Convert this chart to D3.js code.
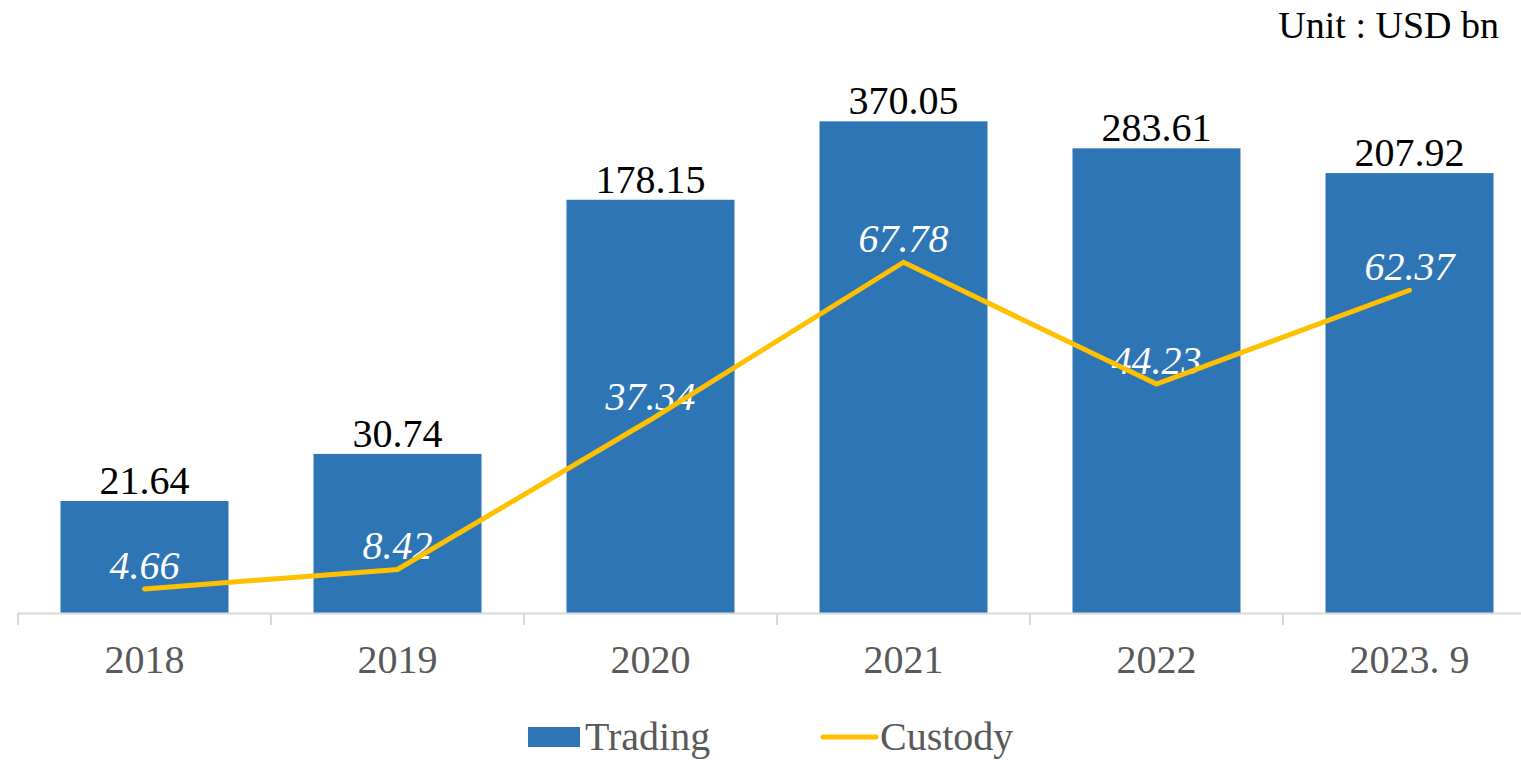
<!DOCTYPE html>
<html>
<head>
<meta charset="utf-8">
<script src="https://cdn.jsdelivr.net/npm/d3@7"></script>
<style>
  html, body { margin: 0; padding: 0; background: #ffffff; }
  svg { display: block; }
</style>
</head>
<body>
<svg id="chart" width="1521" height="760"></svg>
<script>
// ---- data ----
const categories = ["2018", "2019", "2020", "2021", "2022", "2023. 9"];
const trading = [21.64, 30.74, 178.15, 370.05, 283.61, 207.92];
const custody = [4.66, 8.42, 37.34, 67.78, 44.23, 62.37];
const seriesNames = ["Trading", "Custody"];
const unitLabel = "Unit : USD bn";

// ---- layout ----
const W = 1521, H = 760;
const baseY = 613;
const plotLeft = 18;
const step = 253;
const colors = { bar: "#2E75B6", line: "#FFC000", axis: "#D9D9D9", tick: "#595959" };
const fontSize = 40;
const serif = "'Liberation Serif', 'Times New Roman', Times, serif";

const svg = d3.select("#chart").attr("font-family", serif);

const x = d3.scaleBand()
  .domain(categories)
  .range([plotLeft, plotLeft + step * categories.length])
  .paddingInner(0.336)
  .paddingOuter(0.168);
const bw = x.bandwidth();
const halfGap = x.step() * x.paddingInner() / 2;

// Trading axis is a broken (piecewise linear) axis
const yT = d3.scaleLinear()
  .domain([0, 40, 180, 210, 400])
  .range([baseY, baseY - 207, baseY - 416, baseY - 441.7, baseY - 501]);
// Custody on its own linear axis
const yC = d3.scaleLinear().domain([0, 40]).range([baseY, baseY - 207]);

const tData = categories.map((c, i) => ({ cat: c, v: trading[i] }));
const cData = categories.map((c, i) => ({ cat: c, v: custody[i] }));

// bars
svg.append("g").selectAll("rect").data(tData).join("rect")
  .attr("x", d => x(d.cat))
  .attr("y", d => yT(d.v))
  .attr("width", bw)
  .attr("height", d => baseY - yT(d.v))
  .attr("fill", colors.bar);

// axis line + boundary ticks
const axisG = svg.append("g");
axisG.append("line")
  .attr("x1", plotLeft).attr("x2", x.range()[1])
  .attr("y1", baseY + 0.5).attr("y2", baseY + 0.5)
  .attr("stroke", colors.axis).attr("stroke-width", 2);
const boundaries = categories.map(c => x(c) - halfGap).concat([x.range()[1]]);
axisG.selectAll("line.tick").data(boundaries).join("line")
  .attr("class", "tick")
  .attr("x1", d => d).attr("x2", d => d)
  .attr("y1", baseY).attr("y2", baseY + 12)
  .attr("stroke", colors.axis).attr("stroke-width", 2);
axisG.selectAll("text").data(categories).join("text")
  .attr("x", d => x(d) + bw / 2)
  .attr("y", 673)
  .attr("text-anchor", "middle")
  .attr("font-family", serif)
  .attr("font-size", fontSize)
  .attr("fill", colors.tick)
  .text(d => d);

// bar labels
svg.append("g").selectAll("text").data(tData).join("text")
  .attr("x", d => x(d.cat) + bw / 2)
  .attr("y", d => yT(d.v) - 7)
  .attr("text-anchor", "middle")
  .attr("font-family", serif)
  .attr("font-size", fontSize)
  .attr("fill", "#000000")
  .text(d => d.v.toFixed(2));

// custody labels
svg.append("g").selectAll("text").data(cData).join("text")
  .attr("x", d => x(d.cat) + bw / 2)
  .attr("y", d => yC(d.v) - 10)
  .attr("text-anchor", "middle")
  .attr("font-family", serif)
  .attr("font-size", fontSize)
  .attr("font-style", "italic")
  .attr("fill", "#ffffff")
  .text(d => d.v.toFixed(2));

// custody line
const line = d3.line().x(d => x(d.cat) + bw / 2).y(d => yC(d.v));
svg.append("path")
  .datum(cData)
  .attr("d", line)
  .attr("fill", "none")
  .attr("stroke", colors.line)
  .attr("stroke-width", 5)
  .attr("stroke-linejoin", "miter")
  .attr("stroke-linecap", "round");

// unit label
svg.append("text")
  .attr("x", 1499).attr("y", 38)
  .attr("text-anchor", "end")
  .attr("font-family", serif)
  .attr("font-size", 38)
  .attr("fill", "#000000")
  .text(unitLabel);

// legend
const lg = svg.append("g");
lg.append("rect").attr("x", 528).attr("y", 727).attr("width", 52).attr("height", 20).attr("fill", colors.bar);
lg.append("text").attr("x", 585).attr("y", 750).attr("font-family", serif).attr("font-size", fontSize).attr("fill", colors.tick).text(seriesNames[0]);
lg.append("line").attr("x1", 823).attr("x2", 876).attr("y1", 737).attr("y2", 737)
  .attr("stroke", colors.line).attr("stroke-width", 5).attr("stroke-linecap", "round");
lg.append("text").attr("x", 880).attr("y", 750).attr("font-family", serif).attr("font-size", fontSize).attr("fill", colors.tick).text(seriesNames[1]);
</script>
</body>
</html>
